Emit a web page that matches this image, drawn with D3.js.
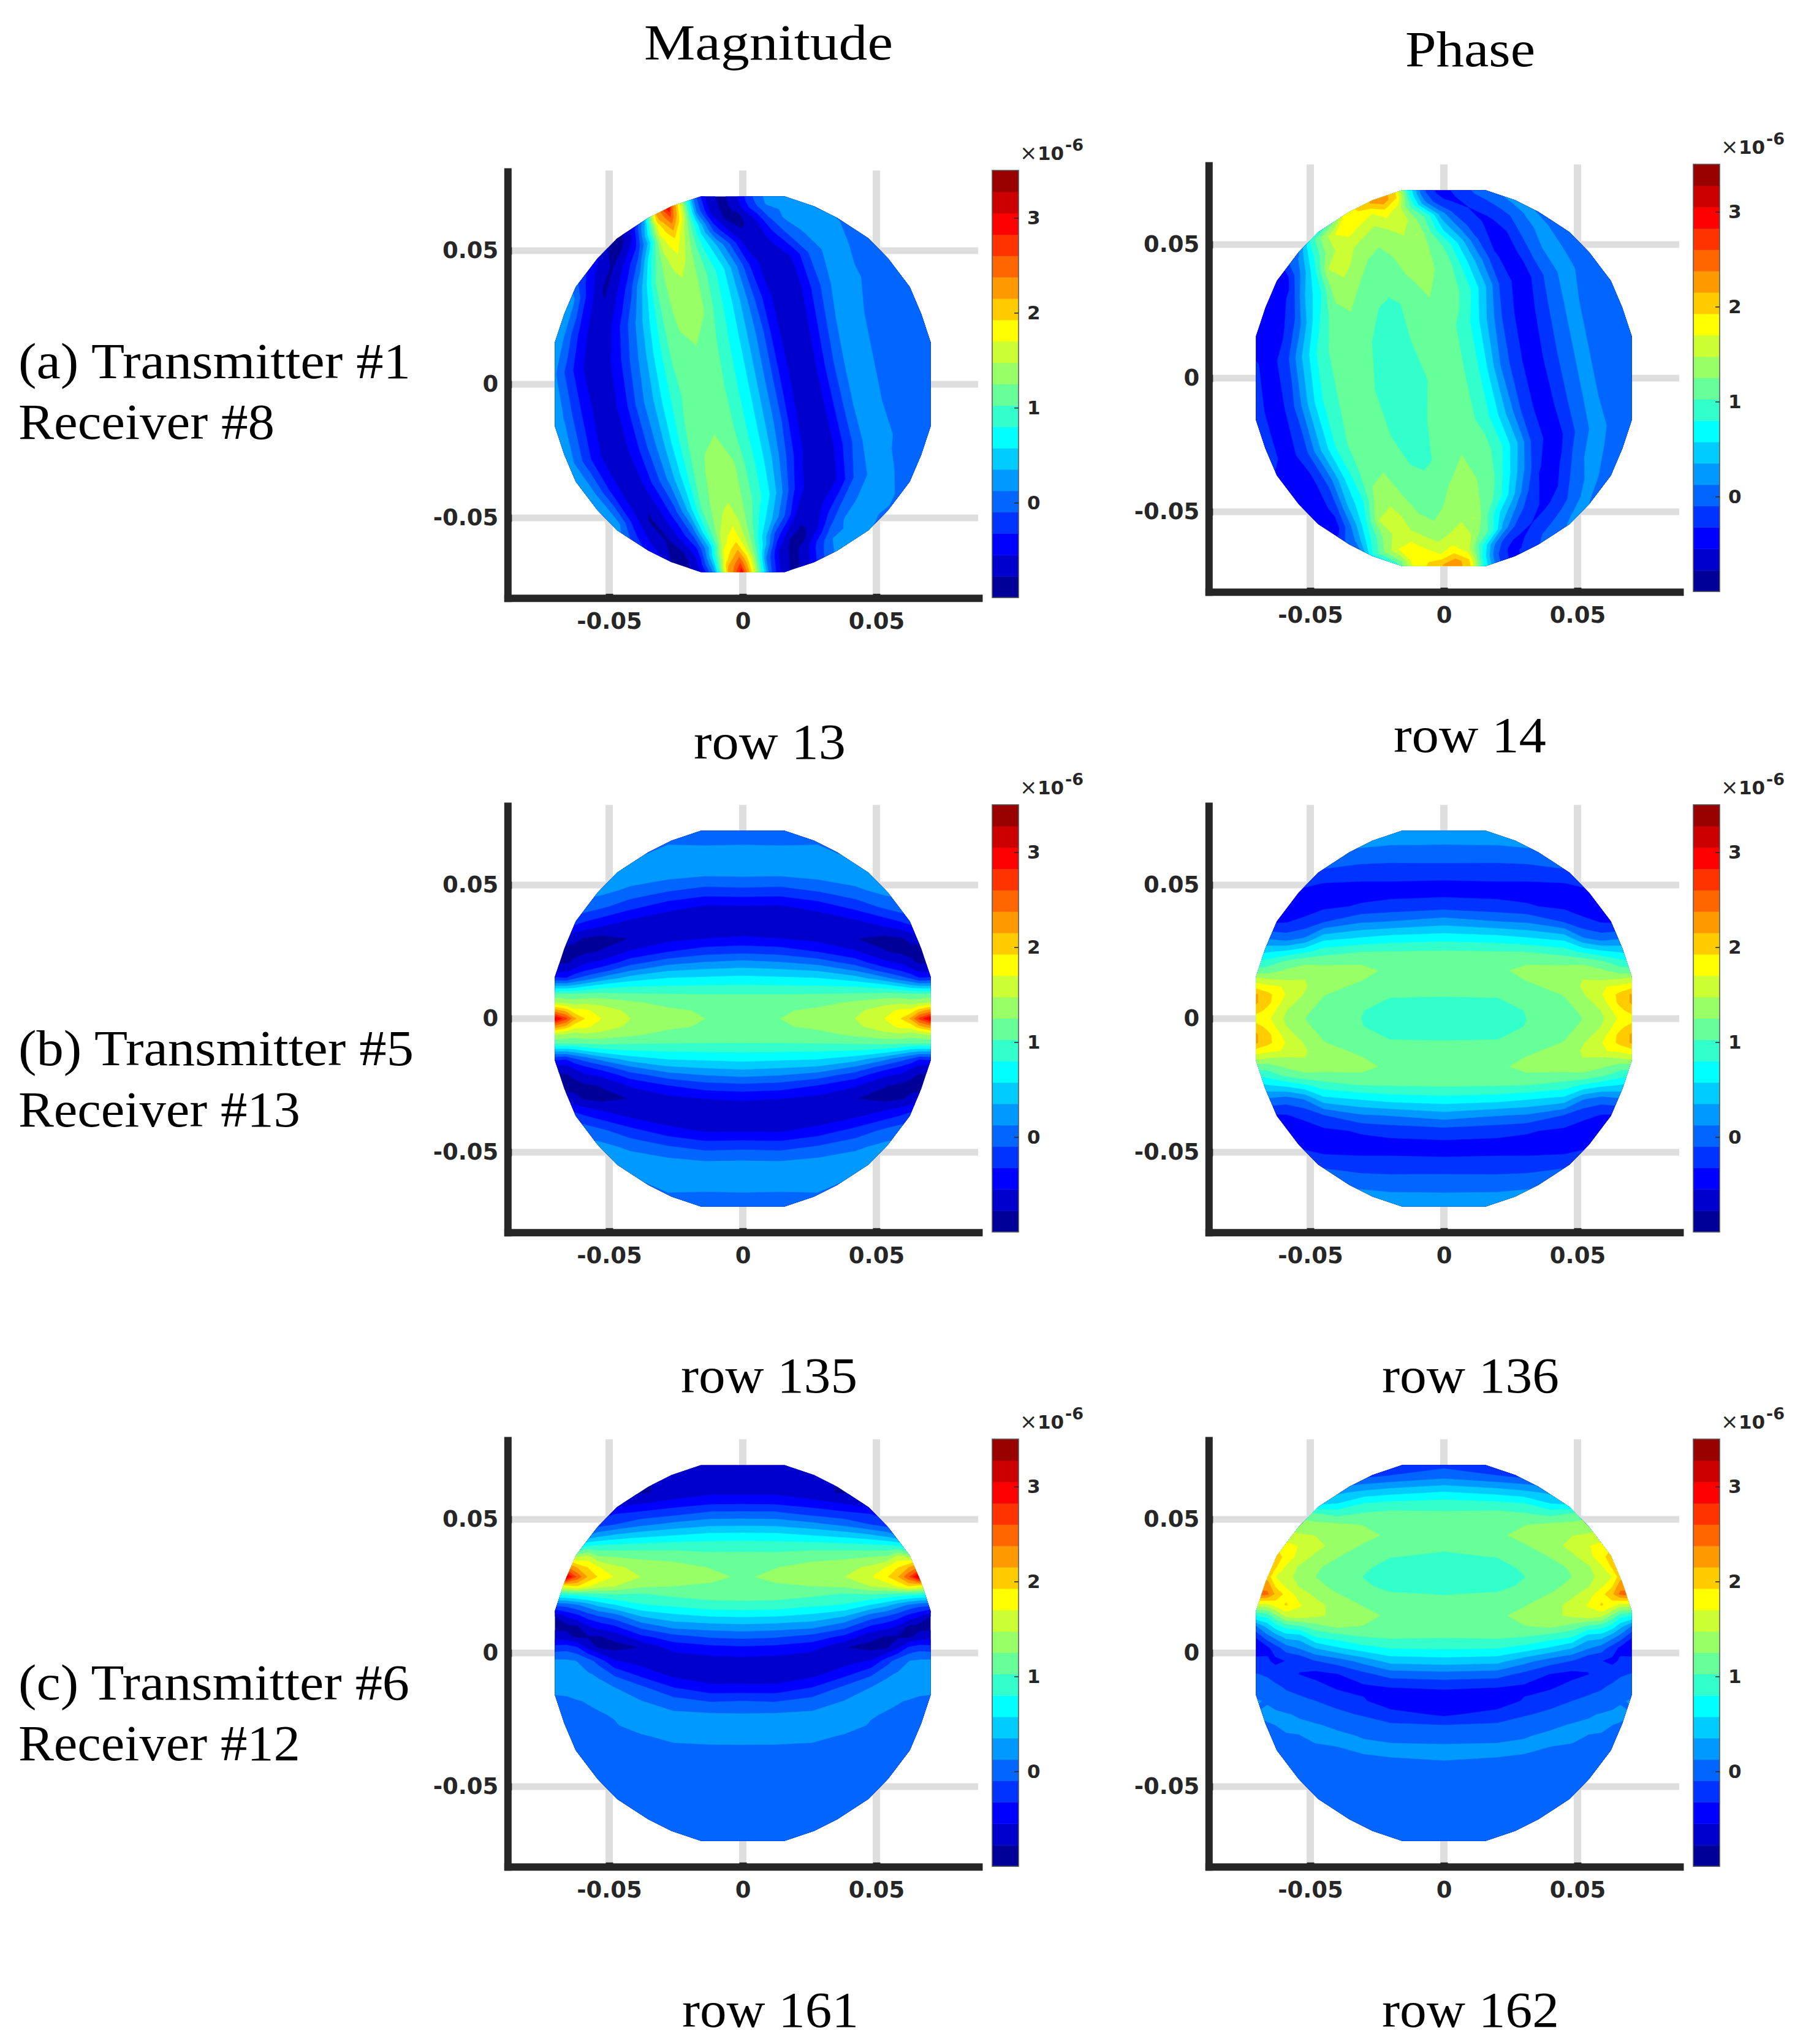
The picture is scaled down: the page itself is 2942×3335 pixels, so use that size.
<!DOCTYPE html>
<html>
<head>
<meta charset="utf-8">
<script src="https://cdn.jsdelivr.net/npm/d3@7"></script>
<style>
body { margin: 0; background: #fff; }
</style>
</head>
<body>
<script>
// colour bands of the shared colorbar, bottom to top
const bandColors = ['#000099','#0000cc','#0000ff','#0033ff','#0066ff','#0099ff','#00ccff','#00ffff','#33ffcc','#66ff99',
  '#99ff66','#ccff33','#ffff00','#ffcc00','#ff9900','#ff6600','#ff3300','#ff0000','#cc0000','#990000'];
const colorMin = -1, colorMax = 3.5;
const barTicks = [0, 1, 2, 3];
const xTicks = [-0.05, 0, 0.05];
const xTickLabels = ['-0.05', '0', '0.05'];
const yTicks = [-0.05, 0, 0.05];
const yTickLabels = ['-0.05', '0', '0.05'];

// one quadrant of the mesh outline
const rimX = [0.0157, 0.0266, 0.0354, 0.0471, 0.0544, 0.0625, 0.0668, 0.0703];
const rimY = [0.0703, 0.0666, 0.0622, 0.0546, 0.0471, 0.0364, 0.0263, 0.0157];

// Each list holds the values along one column of the grid (x 1e-6).
// Positions are s along the transmitter-receiver chord (mirrored about s=0) and t across it.
const sMagB = [0, 0.014, 0.028, 0.042, 0.053, 0.059, 0.063, 0.066, 0.072];
const tB = [0, 0.003, 0.006, 0.009, 0.012, 0.015, 0.018, 0.021, 0.025, 0.03, 0.036, 0.042, 0.048, 0.054, 0.06, 0.066, 0.072];
const magB = [
  [1.2,1.19,1.13,1.03,.84,.65,.43,.19,-.16,-.52,-.74,-.57,-.16,.17,.3,.09,-.1],
  [1.25,1.22,1.14,1.03,.83,.62,.39,.14,-.2,-.55,-.75,-.58,-.18,.16,.29,.08,-.12],
  [1.37,1.3,1.17,1.04,.82,.59,.33,.03,-.33,-.63,-.77,-.45,-.08,.22,.25,.1,-.1],
  [1.475,1.42,1.29,1.06,.79,.46,.11,-.2,-.52,-.77,-.62,-.25,.07,.27,.1,.05,0],
  [1.7,1.6,1.4,1.1,.7,.2,-.2,-.5,-.76,-.85,-.45,-.05,.2,.2,.1,.05,0],
  [1.92,1.75,1.42,1.1,.57,0,-.34,-.58,-.82,-.8,-.35,.05,.2,.15,.1,.05,0],
  [2.2,1.78,1.35,1.08,.45,-.12,-.5,-.72,-.85,-.72,-.25,.05,.15,.15,.1,.05,0],
  [2.65,2.05,1.4,1.08,.4,-.3,-.6,-.8,-.85,-.7,-.3,.05,.15,.15,.1,.05,0],
  [3.3,2.38,1.53,1.1,.4,-.25,-.65,-.82,-.85,-.7,-.3,.05,.15,.15,.1,.05,0]
];
const sPhaseB = [0, 0.02, 0.031, 0.045, 0.052, 0.059, 0.066, 0.072];
const phaseB = [
  [.93,.94,.98,1.04,1.06,1.07,1.07,1.06,1.05,.72,.26,-.2,-.42,-.27,-.03,.15,.3],
  [.97,.98,1,1.04,1.08,1.14,1.2,1.15,1.03,.68,.15,-.25,-.42,-.25,-.04,.16,.3],
  [1.025,1.03,1.07,1.12,1.2,1.27,1.32,1.22,1.02,.6,.11,-.3,-.42,-.25,-.02,.2,.3],
  [1.15,1.17,1.21,1.26,1.33,1.38,1.34,1.2,.92,.5,-.1,-.38,-.45,-.18,.05,.2,.3],
  [1.25,1.29,1.35,1.45,1.5,1.47,1.32,1.22,.75,.15,-.27,-.42,-.38,-.1,.1,.2,.3],
  [1.42,1.48,1.58,1.68,1.68,1.42,1.28,1.1,.62,.02,-.33,-.42,-.35,-.1,.1,.2,.3],
  [1.75,1.85,2,2,1.75,1.45,1.12,.9,.55,.1,-.35,-.45,-.4,-.1,.1,.2,.3],
  [1.85,2.1,2.25,2.25,1.9,1.55,1.1,.85,.45,-.1,-.4,-.45,-.4,-.1,.1,.2,.3]
];

const tC = [.072,.066,.06,.056,.052,.048,.044,.04,.036,.032,.0285,.025,.022,.018,.014,.01,.006,.002,-.003,-.008,-.013,-.018,-.023,-.027,-.031,-.035,-.039,-.043,-.055,-.072];
const sMagC = [0, 0.012, 0.026, 0.038, 0.048, 0.054, 0.058, 0.062, 0.066, 0.072];
const magC = [
  [-.5,-.7,-.6,-.35,-.02,.31,.66,.93,1.1,1.2,1.22,1.2,1.12,.96,.62,.28,-.05,-.37,-.63,-.73,-.48,-.1,.14,.22,.2,.11,.09,.07,.04,.02],
  [-.55,-.72,-.6,-.36,-.03,.3,.65,.92,1.1,1.24,1.3,1.22,1.12,.95,.6,.25,-.08,-.4,-.65,-.74,-.48,-.12,.15,.22,.19,.11,.09,.07,.04,.02],
  [-.6,-.73,-.72,-.45,-.16,.2,.57,.93,1.16,1.35,1.43,1.25,1.08,.85,.52,.2,-.2,-.47,-.72,-.62,-.32,-.01,.17,.22,.17,.1,.08,.06,.03,.02],
  [-.7,-.8,-.8,-.57,-.25,.07,.49,.9,1.2,1.39,1.47,1.29,1,.78,.38,-.02,-.39,-.77,-.65,-.4,-.05,.13,.22,.2,.11,.09,.08,.06,.03,.02],
  [-.7,-.8,-.8,-.7,-.33,-.1,.38,.87,1.24,1.53,1.68,1.48,1.03,.56,.03,-.35,-.72,-.85,-.53,-.14,.13,.2,.14,.11,.1,.09,.07,.05,.03,.02],
  [-.7,-.8,-.85,-.75,-.45,-.2,.26,.85,1.27,1.72,1.9,1.57,.98,.41,-.09,-.47,-.8,-.8,-.2,.09,.2,.16,.11,.1,.09,.07,.06,.05,.03,.02],
  [-.7,-.8,-.88,-.8,-.5,-.25,.13,.8,1.55,1.92,2.13,1.72,.95,.24,-.21,-.57,-.8,-.6,0,.15,.2,.13,.11,.1,.09,.07,.06,.05,.03,.02],
  [-.8,-.85,-.85,-.6,-.35,-.1,0,.65,1.43,2.14,2.55,1.93,.9,.1,-.38,-.8,-.82,-.3,.12,.2,.17,.12,.1,.09,.08,.07,.06,.05,.03,.02],
  [-.8,-.85,-.85,-.7,-.4,-.15,.4,1,1.7,2.4,3.15,1.8,.87,-.02,-.5,-.85,-.7,-.2,.16,.2,.15,.11,.1,.09,.08,.07,.06,.05,.03,.02],
  [-.8,-.85,-.85,-.7,-.4,-.15,.4,1,1.6,2.3,3.2,1.7,.8,-.05,-.85,-.85,-.63,-.25,.17,.2,.14,.11,.1,.09,.08,.07,.06,.05,.03,.02]
];
const sPhaseC = [0, 0.02, 0.03, 0.04, 0.048, 0.054, 0.059, 0.063, 0.066, 0.072];
const phaseC = [
  [-.25,.05,.6,.9,1.07,1.1,1.08,1.05,1,.95,.93,.96,1.02,1.06,1.08,1.07,1.04,.84,.47,.03,-.3,-.48,-.37,-.1,.03,.15,.14,.09,.06,.03],
  [-.5,-.07,.5,.86,1.1,1.15,1.2,1.12,1.03,.97,.95,.98,1.04,1.12,1.2,1.12,1.06,.82,.43,-.01,-.33,-.48,-.23,-.07,.05,.16,.125,.09,.06,.03],
  [-.6,-.15,.42,.8,1.05,1.24,1.33,1.22,1.12,1.05,1.02,1.05,1.13,1.23,1.33,1.24,1.02,.72,.21,-.17,-.38,-.3,-.13,.02,.11,.16,.11,.09,.06,.03],
  [-.7,-.2,.3,.56,.95,1.3,1.4,1.38,1.26,1.17,1.14,1.18,1.26,1.38,1.42,1.3,.9,.55,0,-.34,-.35,-.19,-.04,.09,.16,.125,.1,.08,.05,.03],
  [-.8,-.3,.2,.5,1.05,1.32,1.47,1.55,1.42,1.28,1.25,1.32,1.42,1.55,1.52,1.16,.8,.37,-.11,-.4,-.23,-.1,.04,.14,.16,.11,.09,.07,.05,.03],
  [-.8,-.3,.2,.6,1.15,1.35,1.5,1.68,1.6,1.43,1.4,1.45,1.58,1.72,1.62,.98,.44,.16,-.3,-.33,-.17,-.05,.1,.16,.12,.1,.08,.07,.05,.03],
  [-.8,-.3,.2,.6,1.1,1.4,1.55,1.8,1.85,1.65,1.55,1.65,1.85,1.95,1.55,.9,.42,.02,-.32,-.27,-.12,-.02,.14,.16,.11,.09,.08,.06,.04,.02],
  [-.8,-.3,.2,.6,1.1,1.4,1.6,1.9,2.05,1.95,1.7,1.9,2.1,1.8,1.2,.7,.2,-.2,-.38,-.2,-.05,.05,.16,.125,.1,.09,.07,.06,.04,.02],
  [-.8,-.3,.2,.6,1.1,1.4,1.6,2,2.2,2.2,2.05,2.3,2.42,1.6,.9,.43,.03,-.37,-.3,-.13,0,.11,.16,.11,.09,.08,.07,.06,.04,.02],
  [-.8,-.3,.2,.6,1.1,1.4,1.6,2,2.2,2.2,2.1,2.3,2.5,1.6,.75,-.03,-.42,-.45,-.27,-.07,.07,.15,.12,.1,.09,.08,.07,.06,.04,.02]
];

const tMagA = [-.062,-.054,-.048,-.042,-.036,-.03,-.025,-.02,-.015,-.01,-.005,-.0025,0,.0025,.005,.01,.015,.02,.025,.03,.036,.042,.048,.054,.059,.064,.075,.09];
const sMagA = [0, 0.017, 0.03, 0.043, 0.052, 0.058, 0.061, 0.064, 0.066, 0.073];
const magA = [
  [.3,.12,-.28,-.6,-.68,-.35,.02,.33,.7,1,1.13,1.18,1.2,1.18,1.13,.9,.66,.31,-.05,-.47,-.72,-.58,-.17,.18,.3,.125,.05,.02],
  [.3,.15,-.27,-.62,-.72,-.42,-.07,.27,.68,1.04,1.2,1.22,1.25,1.2,1.15,.92,.66,.31,-.04,-.49,-.72,-.6,-.2,.17,.29,.125,.05,.02],
  [.3,.25,.125,-.37,-.72,-.56,-.22,.17,.6,1.05,1.3,1.34,1.36,1.32,1.27,.96,.67,.3,-.12,-.51,-.72,-.62,-.22,.125,.27,.135,.06,.02],
  [.3,.3,.25,.2,-.43,-.82,-.57,-.18,.4,1.05,1.35,1.42,1.475,1.38,1.27,.97,.65,.2,-.3,-.62,-.74,-.52,-.1,.16,.24,.11,.05,.02],
  [.3,.25,.2,.12,-.25,-.65,-.8,-.5,-.05,.82,1.45,1.6,1.7,1.5,1.27,.78,.35,-.13,-.62,-.75,-.43,-.05,.17,.2,.17,.09,.05,.02],
  [.3,.25,.2,.1,-.1,-.45,-.8,-.78,-.38,.4,1.6,1.78,1.925,1.62,1.32,.56,-.15,-.6,-.83,-.68,-.15,.17,.2,.13,.1,.08,.05,.02],
  [.3,.25,.2,.1,-.1,-.45,-.8,-.85,-.5,.5,1.75,1.95,2.15,1.75,1.35,.5,-.33,-.78,-.86,-.5,0,.17,.17,.11,.09,.08,.05,.02],
  [.3,.25,.2,.1,-.1,-.45,-.8,-.85,-.5,.4,1.85,2.15,2.4,2,1.45,.25,-.55,-.85,-.73,-.28,.14,.17,.14,.1,.09,.08,.05,.02],
  [.3,.25,.2,.1,-.1,-.45,-.8,-.85,-.6,.3,2.1,2.3,2.6,2.1,1.5,.1,-.6,-.85,-.68,-.22,.15,.17,.13,.1,.09,.07,.05,.02],
  [.3,.25,.2,.1,-.1,-.45,-.8,-.85,-.7,.1,2.3,2.9,3.4,2.3,1.5,0,-.7,-.85,-.6,-.15,.16,.15,.11,.1,.08,.07,.05,.02]
];
const tPhaseA = [-.062,-.054,-.048,-.042,-.036,-.03,-.025,-.02,-.015,-.01,-.005,0,.005,.01,.015,.02,.025,.03,.036,.042,.048,.052,.056,.06,.064,.068,.072,.08,.09];
const sPhaseA = [0, 0.018, 0.03, 0.04, 0.048, 0.054, 0.06, 0.065, 0.069, 0.073];
const phaseA = [
  [-.1,-.33,-.42,-.05,.5,.93,1.05,1.07,1.06,1,.95,.93,1,1.04,1.06,1.06,.98,.64,.11,-.27,-.42,-.33,-.16,-.02,.13,.14,.1,.07,.05],
  [-.1,-.3,-.42,-.17,.37,.85,1.07,1.12,1.12,1.03,.97,.95,1.03,1.1,1.12,1.08,.97,.68,.21,-.26,-.4,-.36,-.17,-.03,.13,.14,.1,.07,.05],
  [-.3,-.4,-.45,-.42,-.05,.55,.95,1.2,1.24,1.13,1.03,.98,1.04,1.15,1.25,1.18,1.08,.84,.38,-.16,-.4,-.42,-.2,-.03,.135,.16,.1,.07,.05],
  [-.3,-.4,-.45,-.45,-.27,.42,.75,1.3,1.38,1.25,1.17,1.13,1.2,1.28,1.35,1.22,1.06,.7,.2,-.3,-.42,-.27,-.05,.13,.16,.11,.09,.06,.05],
  [-.3,-.4,-.45,-.45,-.4,.2,.78,1.48,1.58,1.42,1.24,1.2,1.26,1.36,1.35,1.2,.95,.5,-.05,-.38,-.34,-.13,.06,.17,.12,.1,.08,.06,.05],
  [-.3,-.4,-.4,-.35,-.2,.15,.75,1.25,1.55,1.5,1.35,1.27,1.33,1.45,1.48,1.03,.55,.16,-.25,-.37,-.23,-.03,.135,.125,.1,.09,.08,.06,.05],
  [-.3,-.4,-.4,-.35,-.2,-.1,.8,1.3,1.7,1.78,1.6,1.46,1.55,1.66,1.3,.95,.25,-.16,-.33,-.22,.03,.16,.13,.1,.09,.08,.07,.06,.05],
  [-.3,-.4,-.4,-.35,-.2,0,.3,.6,1.2,1.9,1.85,1.7,1.85,1.6,.95,.2,-.27,-.38,-.21,.02,.14,.125,.1,.09,.08,.08,.07,.06,.05],
  [-.3,-.4,-.4,-.35,-.2,0,.3,.6,1.2,1.8,2,2.15,2.3,1.93,.8,-.02,-.35,-.32,-.13,.08,.125,.1,.09,.08,.07,.07,.06,.05,.05],
  [-.3,-.4,-.4,-.35,-.2,0,.3,.6,1.2,1.8,2,2.15,2.3,1.93,.8,-.02,-.35,-.32,-.13,.08,.125,.1,.09,.08,.07,.07,.06,.05,.05]
];

// chord frame of each transmitter-receiver pair
const chordA = { angle: -78.6, cx: -0.014, cy: -0.0022 };
const chordLevel = { angle: 0, cx: 0, cy: 0 };

const columnTitles = [
  { text: 'Magnitude', x: 1051, y: 97, len: 406 },
  { text: 'Phase', x: 2285, y: 108, len: 212 }
];
const rowTitles = [
  { text: '(a) Transmitter #1', x: 30, y: 617, len: 640 },
  { text: 'Receiver #8', x: 30, y: 716, len: 418 },
  { text: '(b) Transmitter #5', x: 30, y: 1738, len: 645 },
  { text: 'Receiver #13', x: 30, y: 1838, len: 460 },
  { text: '(c) Transmitter #6', x: 30, y: 2773, len: 638 },
  { text: 'Receiver #12', x: 30, y: 2872, len: 460 }
];
const rowCaptions = [
  { text: 'row 13', x: 1128, y: 1238, len: 248 },
  { text: 'row 14', x: 2266, y: 1227, len: 249 },
  { text: 'row 135', x: 1107, y: 2272, len: 288 },
  { text: 'row 136', x: 2247, y: 2272, len: 289 },
  { text: 'row 161', x: 1109, y: 3307, len: 288 },
  { text: 'row 162', x: 2247, y: 3307, len: 289 }
];

const panels = [
  { ox: 1212, oy: 627, s: sMagA, t: tMagA, cols: magA, chord: chordA },
  { ox: 2356, oy: 617, s: sPhaseA, t: tPhaseA, cols: phaseA, chord: chordA },
  { ox: 1212, oy: 1662, s: sMagB, t: tB, cols: magB, chord: chordLevel, mirrorT: true },
  { ox: 2356, oy: 1662, s: sPhaseB, t: tB, cols: phaseB, chord: chordLevel, mirrorT: true },
  { ox: 1212, oy: 2697, s: sMagC, t: tC, cols: magC, chord: chordLevel },
  { ox: 2356, oy: 2697, s: sPhaseC, t: tC, cols: phaseC, chord: chordLevel }
];

const pxPerUnit = 4360;
const dark = '#262626';
const sansFont = '"DejaVu Sans", sans-serif';
const serifFont = '"Liberation Serif", serif';

const svg = d3.select('body').append('svg')
  .attr('width', 2942).attr('height', 3335)
  .style('display', 'block');

const levels = bandColors.map((c, i) => colorMin + i * (colorMax - colorMin) / bandColors.length);

// rim ring, all four quadrants
const rim = [
  ...rimX.map((x, i) => [x, rimY[i]]),
  ...rimX.map((x, i) => [x, -rimY[i]]).reverse(),
  ...rimX.map((x, i) => [-x, -rimY[i]]),
  ...rimX.map((x, i) => [-x, rimY[i]]).reverse()
];

function mirrorAxis(a) {
  return [...a.slice(1).map(v => -v).reverse(), ...a];
}
function mirrorList(a) {
  return [...a.slice(1).reverse(), ...a];
}

function drawPanel(p, idx) {
  const g = svg.append('g');
  const xDomain = [-0.088, 0.0883], yDomain = [-0.08, 0.0796];
  const x = d3.scaleLinear().domain(xDomain).range([p.ox + xDomain[0] * pxPerUnit, p.ox + xDomain[1] * pxPerUnit]);
  const y = d3.scaleLinear().domain(yDomain).range([p.oy - yDomain[0] * pxPerUnit, p.oy - yDomain[1] * pxPerUnit]);

  // grid lines under the field
  g.selectAll('.gx').data(xTicks).join('line')
    .attr('x1', d => x(d)).attr('x2', d => x(d))
    .attr('y1', y(-0.08)).attr('y2', y(0.08))
    .attr('stroke', '#dedede').attr('stroke-width', 12);
  g.selectAll('.gy').data(yTicks).join('line')
    .attr('y1', d => y(d)).attr('y2', d => y(d))
    .attr('x1', x(-0.088)).attr('x2', x(0.0881))
    .attr('stroke', '#dedede').attr('stroke-width', 11);

  // filled contours
  const sFull = mirrorAxis(p.s);
  const colsFull = mirrorList(p.cols);
  const tFull = p.mirrorT ? mirrorAxis(p.t) : p.t;
  const columns = p.mirrorT ? colsFull.map(mirrorList) : colsFull;
  const n = sFull.length, m = tFull.length;
  const values = [];
  for (let j = 0; j < m; j++) for (let i = 0; i < n; i++) values.push(columns[i][j]);

  const sOf = d3.scaleLinear().domain(d3.range(n)).range(sFull);
  const tOf = d3.scaleLinear().domain(d3.range(m)).range(tFull);
  const rad = p.chord.angle * Math.PI / 180;
  const cos = Math.cos(rad), sin = Math.sin(rad);
  const path = d3.geoPath(d3.geoTransform({
    point(px, py) {
      const s = sOf(px - 0.5), t = tOf(py - 0.5);
      this.stream.point(x(p.chord.cx + s * cos - t * sin), y(p.chord.cy + s * sin + t * cos));
    }
  }));
  const clipId = 'rim' + idx;
  g.append('clipPath').attr('id', clipId).append('polygon')
    .attr('points', rim.map(d => x(d[0]) + ',' + y(d[1])).join(' '));
  const contours = d3.contours().size([n, m]).thresholds(levels)(values);
  g.append('g').attr('clip-path', 'url(#' + clipId + ')')
    .selectAll('path').data(contours).join('path')
    .attr('d', path)
    .attr('fill', (d, i) => bandColors[i])
    .attr('stroke', (d, i) => bandColors[i])
    .attr('stroke-width', 0.6);

  // axes
  const xAxis = d3.axisBottom(x).tickValues(xTicks).tickFormat((d, i) => xTickLabels[i])
    .tickSizeInner(-7).tickSizeOuter(0).tickPadding(24);
  const yAxis = d3.axisLeft(y).tickValues(yTicks).tickFormat((d, i) => yTickLabels[i])
    .tickSizeInner(-7).tickSizeOuter(0).tickPadding(15);
  const gx = g.append('g').attr('transform', `translate(0,${y(-0.08)})`).call(xAxis);
  const gy = g.append('g').attr('transform', `translate(${x(-0.088)},0)`).call(yAxis);
  [gx, gy].forEach(a => {
    a.select('.domain').attr('stroke', dark).attr('stroke-width', 12).attr('stroke-linecap', 'square');
    a.selectAll('.tick line').attr('stroke', dark).attr('stroke-width', 12);
    a.selectAll('.tick text').attr('fill', dark)
      .style('font-family', sansFont).style('font-weight', 'bold').style('font-size', '37px');
  });

  // colorbar
  const barLeft = p.ox + 407, barRight = p.ox + 450;
  const barScale = d3.scaleLinear().domain([colorMin, colorMax]).range([p.oy + 348, p.oy - 349]);
  const bar = g.append('g');
  bar.selectAll('rect').data(bandColors).join('rect')
    .attr('x', barLeft).attr('width', barRight - barLeft)
    .attr('y', (d, i) => barScale(levels[i] + (colorMax - colorMin) / bandColors.length))
    .attr('height', barScale(colorMin) - barScale(colorMin + (colorMax - colorMin) / bandColors.length) + 0.5)
    .attr('fill', d => d);
  bar.append('rect').attr('x', barLeft).attr('y', barScale(colorMax))
    .attr('width', barRight - barLeft).attr('height', barScale(colorMin) - barScale(colorMax))
    .attr('fill', 'none').attr('stroke', '#555').attr('stroke-width', 1.5);
  const barAxis = d3.axisRight(barScale).tickValues(barTicks).tickFormat(d3.format('d'))
    .tickSizeInner(-7).tickSizeOuter(0).tickPadding(14);
  const gb = g.append('g').attr('transform', `translate(${barRight},0)`).call(barAxis);
  gb.select('.domain').remove();
  gb.selectAll('.tick line').attr('stroke', dark).attr('stroke-width', 1.5);
  gb.selectAll('.tick text').attr('fill', dark)
    .style('font-family', sansFont).style('font-weight', 'bold').style('font-size', '31px');

  // exponent above the bar
  const expo = g.append('g').attr('fill', dark).style('font-family', sansFont);
  expo.append('text').attr('x', p.ox + 452).attr('y', p.oy - 366).text('×')
    .style('font-size', '34px');
  expo.append('text').attr('x', p.ox + 481).attr('y', p.oy - 366).text('10')
    .style('font-size', '31px').style('font-weight', 'bold');
  expo.append('text').attr('x', p.ox + 526).attr('y', p.oy - 381).text('-6')
    .style('font-size', '27px').style('font-weight', 'bold');
}

panels.forEach(drawPanel);

// captions: shift by the measured offset from the first render
svg.append('g').selectAll('text').data([...columnTitles, ...rowTitles, ...rowCaptions]).join('text')
  .attr('x', d => d.x + (d.text.startsWith('row') ? (d.x > 2000 ? 8 : 4) : (d.text === 'Phase' ? 8 : 0)))
  .attr('y', d => d.y)
  .attr('textLength', d => d.len).attr('lengthAdjust', 'spacingAndGlyphs')
  .attr('fill', '#000')
  .style('font-family', serifFont).style('font-size', '82px')
  .text(d => d.text);
</script>
</body>
</html>
